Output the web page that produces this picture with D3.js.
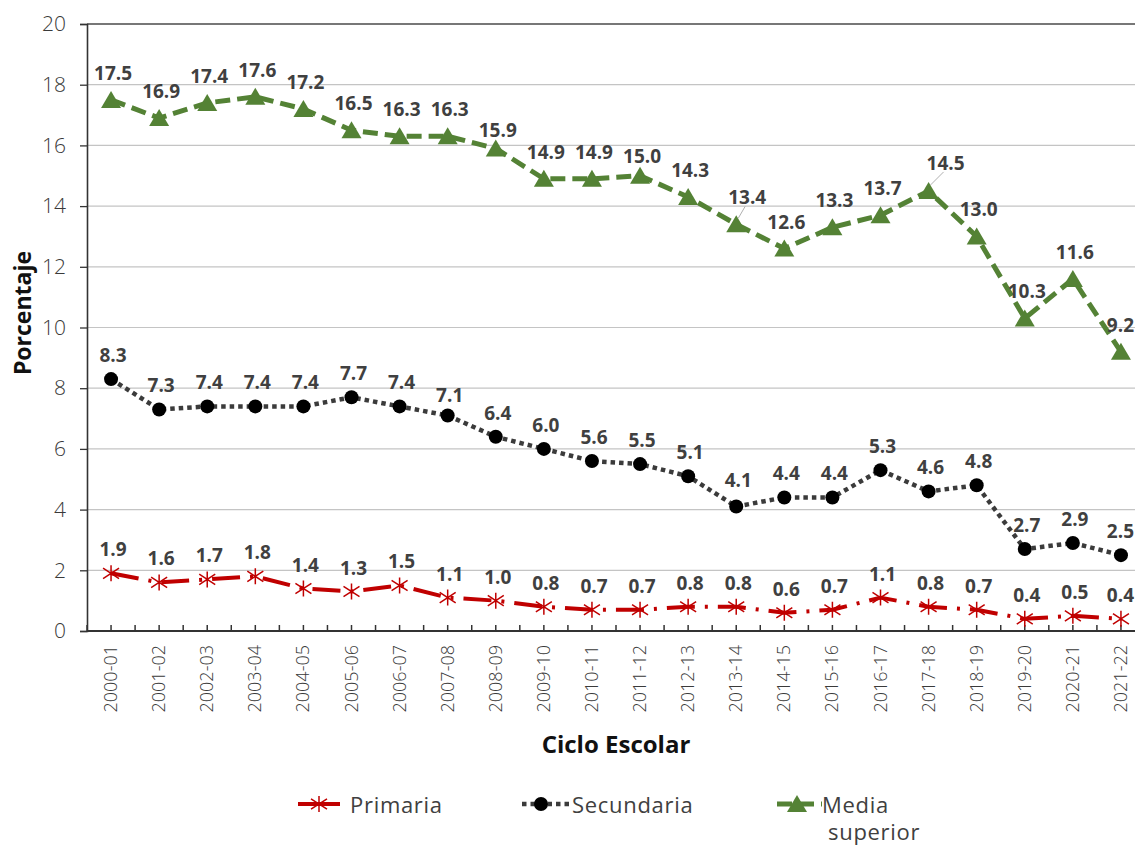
<!DOCTYPE html>
<html>
<head>
<meta charset="utf-8">
<script src="https://cdn.jsdelivr.net/npm/d3@7"></script>
<style>
  html, body { margin: 0; padding: 0; background: #fff; }
  svg { display: block; }
</style>
</head>
<body>
<svg id="chart" width="1135" height="846"></svg>
<script>
// School cycles on the category axis
const categories = ["2000-01","2001-02","2002-03","2003-04","2004-05","2005-06","2006-07",
  "2007-08","2008-09","2009-10","2010-11","2011-12","2012-13","2013-14","2014-15",
  "2015-16","2016-17","2017-18","2018-19","2019-20","2020-21","2021-22"];

// Percentages per education level
const primaria = [1.9,1.6,1.7,1.8,1.4,1.3,1.5,1.1,1.0,0.8,0.7,0.7,0.8,0.8,0.6,0.7,1.1,0.8,0.7,0.4,0.5,0.4];
const secundaria = [8.3,7.3,7.4,7.4,7.4,7.7,7.4,7.1,6.4,6.0,5.6,5.5,5.1,4.1,4.4,4.4,5.3,4.6,4.8,2.7,2.9,2.5];
const mediaSuperior = [17.5,16.9,17.4,17.6,17.2,16.5,16.3,16.3,15.9,14.9,14.9,15.0,14.3,13.4,12.6,13.3,13.7,14.5,13.0,10.3,11.6,9.2];

const yTicks = [0,2,4,6,8,10,12,14,16,18,20];
const seriesNames = ["Primaria","Secundaria","Media superior"];

// Hand-placed value labels that would otherwise collide with the lines or the edge
const labelNudges = [
  { s: 2, i: 8,  dx: 0,  dy: 9 },
  { s: 2, i: 11, dx: 0,  dy: 7 },
  { s: 2, i: 13, dx: 9,  dy: 0,  leader: true },
  { s: 2, i: 17, dx: 15, dy: -1, leader: true },
  { s: 2, i: 21, edge: true, dy: 0 },
  { s: 1, i: 7,  dx: 0,  dy: 3 },
  { s: 1, i: 13, dx: 0,  dy: -3 },
  { s: 1, i: 21, edge: true, dy: 0 },
  { s: 0, i: 21, edge: true, dy: 0 }
];

const svg = d3.select("#chart");
const W = 1135, H = 846;
svg.append("rect").attr("width", W).attr("height", H).attr("fill", "#fff");

const x = d3.scaleBand().domain(categories).range([87, 1145]).padding(0);
const y = d3.scaleLinear().domain([0, 20]).range([631, 24]);
const cx = c => x(c) + x.bandwidth() / 2;

const series = [
  { name: seriesNames[0], values: primaria, color: "#C00000", lineColor: "#C00000",
    dash: "28,10,3,10", width: 4, marker: "star", labelDy: -24 },
  { name: seriesNames[1], values: secundaria, color: "#000000", lineColor: "#3b3b3b",
    dash: "4.5,4", width: 4.5, marker: "circle", labelDy: -24 },
  { name: seriesNames[2], values: mediaSuperior, color: "#548235", lineColor: "#548235",
    dash: "15,7", width: 5, marker: "triangle", labelDy: -27 }
];

// Horizontal gridlines
svg.append("g").selectAll("line").data(yTicks.filter(t => t > 0)).join("line")
  .attr("x1", 87).attr("x2", W)
  .attr("y1", d => y(d)).attr("y2", d => y(d))
  .attr("stroke", d => d === 20 ? "#4a4a4a" : "#c4c4c4")
  .attr("stroke-width", d => d === 20 ? 1.3 : 1.2);

// Y axis
const yAxis = d3.axisLeft(y).tickValues(yTicks).tickSize(7).tickPadding(14).tickFormat(d3.format("d"));
const gy = svg.append("g").attr("transform", "translate(87,0)").call(yAxis);
gy.select(".domain").attr("stroke", "#333").attr("stroke-width", 1.6);
gy.selectAll(".tick line").attr("stroke", "#333").attr("stroke-width", 1.3);
gy.selectAll(".tick text")
  .attr("font-family", "'Open Sans', sans-serif").attr("font-weight", 300)
  .attr("font-size", 21).attr("fill", "#3a3a3a");

// X axis: base line, ticks at every category centre and boundary
const gx = svg.append("g");
gx.append("line").attr("x1", 87).attr("x2", W).attr("y1", y(0)).attr("y2", y(0))
  .attr("stroke", "#333").attr("stroke-width", 2.2);
const tickXs = [];
categories.forEach(c => { tickXs.push(x(c)); tickXs.push(cx(c)); });
tickXs.push(x(categories[categories.length - 1]) + x.bandwidth());
gx.selectAll("line.tk").data(tickXs).join("line").attr("class", "tk")
  .attr("x1", d => d).attr("x2", d => d).attr("y1", y(0) - 6).attr("y2", y(0) + 1)
  .attr("stroke", "#333").attr("stroke-width", 1.5);
gx.selectAll("text").data(categories).join("text")
  .attr("transform", d => `translate(${cx(d) + 6},${y(0) + 14}) rotate(-90)`)
  .attr("text-anchor", "end")
  .attr("font-family", "'Open Sans', sans-serif").attr("font-weight", 300)
  .attr("font-size", 18).attr("fill", "#3a3a3a")
  .text(d => d);

// Axis titles
svg.append("text").attr("transform", "translate(31,313) rotate(-90)")
  .attr("text-anchor", "middle")
  .attr("font-family", "'Open Sans', sans-serif").attr("font-weight", 700)
  .attr("font-size", 23).attr("fill", "#111").text("Porcentaje");
svg.append("text").attr("x", 616).attr("y", 753)
  .attr("text-anchor", "middle")
  .attr("font-family", "'Open Sans', sans-serif").attr("font-weight", 700)
  .attr("font-size", 24).attr("fill", "#111").text("Ciclo Escolar");

// Marker drawing
function drawMarker(g, type, color) {
  if (type === "circle") {
    g.append("circle").attr("r", 7).attr("fill", color);
  } else if (type === "triangle") {
    g.append("path").attr("d", "M0,-9 L10,8 L-10,8 Z").attr("fill", color);
  } else {
    const a = 8;
    g.append("path")
      .attr("d", `M0,${-a} L0,${a} M${-a},${-a * 0.65} L${a},${a * 0.65} M${-a},${a * 0.65} L${a},${-a * 0.65}`)
      .attr("stroke", color).attr("stroke-width", 1.5).attr("fill", "none");
  }
}

const line = d3.line().x((d, i) => cx(categories[i])).y(d => y(d));

// Lines
series.forEach(s => {
  svg.append("path").datum(s.values)
    .attr("d", line)
    .attr("fill", "none")
    .attr("stroke", s.lineColor)
    .attr("stroke-width", s.width)
    .attr("stroke-dasharray", s.dash)
    .attr("stroke-linejoin", "round");
});

// Markers
series.forEach(s => {
  s.values.forEach((v, i) => {
    const g = svg.append("g").attr("transform", `translate(${cx(categories[i])},${y(v)})`);
    drawMarker(g, s.marker, s.color);
  });
});

// Value labels
series.forEach((s, si) => {
  s.values.forEach((v, i) => {
    const n = labelNudges.find(d => d.s === si && d.i === i) || { dx: 0, dy: 0 };
    const px = cx(categories[i]), py = y(v);
    const lx = n.edge ? W - 1 : px + 2 + n.dx, ly = py + s.labelDy + n.dy;
    if (n.leader) {
      svg.append("line")
        .attr("x1", px + 2).attr("y1", py - 6)
        .attr("x2", lx - 2).attr("y2", ly + 9)
        .attr("stroke", "#b0b0b0").attr("stroke-width", 1);
    }
    svg.append("text")
      .attr("x", lx).attr("y", ly)
      .attr("text-anchor", n.edge ? "end" : "middle").attr("dominant-baseline", "central")
      .attr("font-family", "'Open Sans', sans-serif").attr("font-weight", 700)
      .attr("font-size", 19).attr("fill", "#404040")
      .text(d3.format(".1f")(v));
  });
});

// Legend
const legendItems = [
  { s: series[0], x0: 298, x1: 340, mx: 319, tx: 350, lines: ["Primaria"] },
  { s: series[1], x0: 522, x1: 571, mx: 541, tx: 572, lines: ["Secundaria"] },
  { s: series[2], x0: 777, x1: 822, mx: 797, tx: 822, lines: ["Media", "superior"] }
];
const ly0 = 804;
legendItems.forEach(it => {
  const g = svg.append("g");
  g.append("line").attr("x1", it.x0).attr("x2", it.x1).attr("y1", ly0).attr("y2", ly0)
    .attr("stroke", it.s.lineColor).attr("stroke-width", it.s.width)
    .attr("stroke-dasharray", it.s.marker === "star" ? null : it.s.dash);
  const m = g.append("g").attr("transform", `translate(${it.mx},${ly0})`);
  drawMarker(m, it.s.marker, it.s.color);
  it.lines.forEach((t, k) => {
    g.append("text").attr("x", it.tx + (k ? 6 : 0)).attr("y", ly0 + k * 27)
      .attr("dominant-baseline", "central")
      .attr("font-family", "'Open Sans', sans-serif").attr("font-weight", 400)
      .attr("font-size", 22).attr("letter-spacing", 0.7).attr("fill", "#404040").text(t);
  });
});
</script>
</body>
</html>
